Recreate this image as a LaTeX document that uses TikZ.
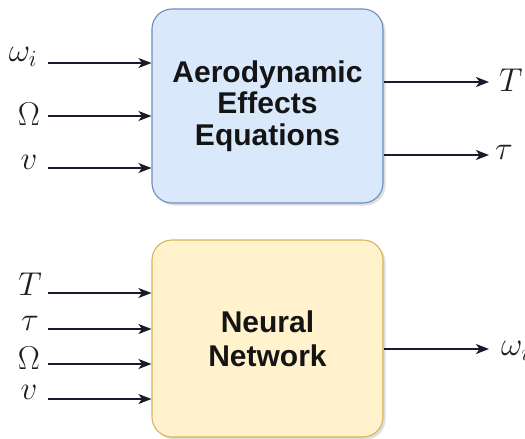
\RequirePackage{fix-cm}
\documentclass[tikz,border=0pt]{standalone}
\usepackage{fontspec}
\setmainfont{Liberation Sans}
\usetikzlibrary{arrows.meta,shadows}
\definecolor{bluefill}{HTML}{DAE8FC}
\definecolor{bluedraw}{HTML}{6C8EBF}
\definecolor{yelfill}{HTML}{FFF2CC}
\definecolor{yeldraw}{HTML}{D6B656}
\definecolor{arrcol}{HTML}{1A1A2A}
\begin{document}
\begin{tikzpicture}[x=1pt,y=-1pt,
  box/.style={line width=1.1pt, rounded corners=20pt, minimum width=231pt,
    align=center, text=black!92, inner sep=0pt,
    font=\bfseries\fontsize{30}{31.5}\selectfont,
    drop shadow={opacity=0.25, shadow xshift=2.5pt, shadow yshift=-2.5pt}},
  arr/.style={draw=arrcol, line width=1.5pt, -{Stealth[length=13pt,width=10pt,inset=3.5pt]}},
  lab/.style={inner sep=0pt, font=\fontsize{33}{33}\selectfont, text=black!88}]
\useasboundingbox (0,0) rectangle (525,439);

% boxes
\node[box, draw=bluedraw, fill=bluefill, minimum height=194pt] (aero) at (267.5,106) {Aerodynamic\\Effects\\Equations};
\node[box, draw=yeldraw, fill=yelfill, minimum height=197pt, font=\bfseries\fontsize{30}{34}\selectfont] (nn) at (267.5,338.5) {Neural\\Network};

% top inputs
\node[lab] (lw) at (23,57) {$\omega_i$};
\node[lab] (lO) at (29,114) {$\Omega$};
\node[lab] (lv) at (29,162) {$v$};
\coordinate (s1) at (48,63);
\coordinate (s2) at (48,116);
\coordinate (s3) at (48,168);
\draw[arr] (s1) -- (s1 -| aero.west);
\draw[arr] (s2) -- (s2 -| aero.west);
\draw[arr] (s3) -- (s3 -| aero.west);

% top outputs
\coordinate (e1) at (489,82);
\coordinate (e2) at (489,155);
\draw[arr] (e1 -| aero.east) -- (e1);
\draw[arr] (e2 -| aero.east) -- (e2);
\node[lab, anchor=west] (lT) at (499,80) {$T$};
\node[lab, anchor=west] (lt) at (495,152) {$\tau$};

% bottom inputs
\node[lab] (bT) at (30,284) {$T$};
\node[lab] (bt) at (30,323) {$\tau$};
\node[lab] (bO) at (29,358) {$\Omega$};
\node[lab] (bv) at (29,392) {$v$};
\coordinate (t1) at (48,293);
\coordinate (t2) at (48,329);
\coordinate (t3) at (48,364);
\coordinate (t4) at (48,399);
\draw[arr] (t1) -- (t1 -| nn.west);
\draw[arr] (t2) -- (t2 -| nn.west);
\draw[arr] (t3) -- (t3 -| nn.west);
\draw[arr] (t4) -- (t4 -| nn.west);

% bottom output
\coordinate (f1) at (489,349);
\draw[arr] (f1 -| nn.east) -- (f1);
\node[lab, anchor=west] (bw) at (501,351) {$\omega_i$};
\end{tikzpicture}
\end{document}
